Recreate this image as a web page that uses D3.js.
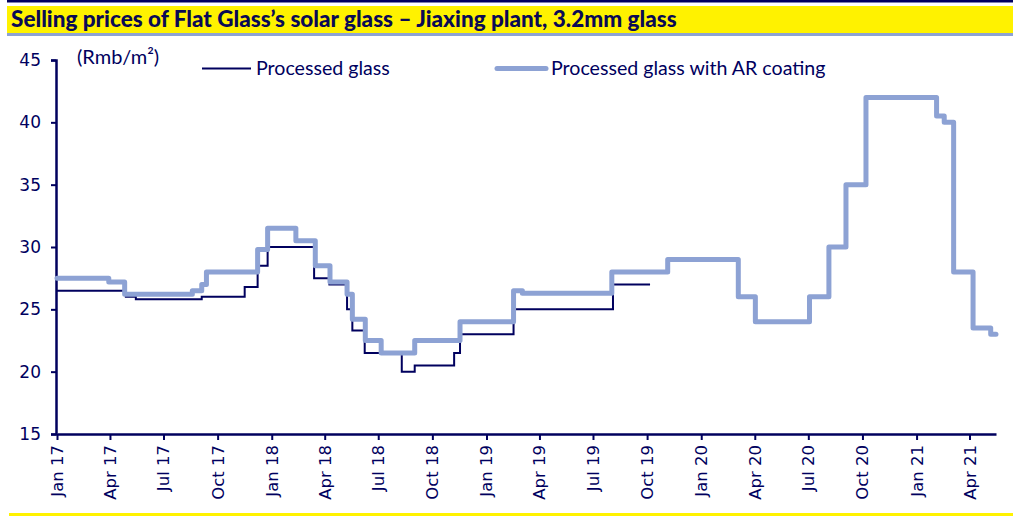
<!DOCTYPE html>
<html>
<head>
<meta charset="utf-8">
<script src="https://cdn.jsdelivr.net/npm/d3@7"></script>
<style>
  body { margin: 0; background: #fff; }
  svg { display: block; }
</style>
</head>
<body>
<div id="chart"></div>
<script>
// step changes: [date, Rmb/m2]
const processedGlass = [
  ["2017-01-01", 26.5], ["2017-04-28", 26.0], ["2017-05-15", 25.8],
  ["2017-09-04", 26.0], ["2017-11-16", 26.8], ["2017-12-08", 28.5],
  ["2017-12-25", 30.0], ["2018-03-14", 27.5], ["2018-04-09", 27.0],
  ["2018-05-09", 25.0], ["2018-05-18", 23.3], ["2018-06-08", 21.5],
  ["2018-08-10", 20.0], ["2018-09-01", 20.5], ["2018-11-07", 21.5],
  ["2018-11-17", 23.0], ["2019-02-16", 25.0], ["2019-08-04", 27.0],
  ["2019-10-06", 27.0]
];

const arCoatedGlass = [
  ["2017-01-01", 27.5], ["2017-03-30", 27.2], ["2017-04-26", 26.2],
  ["2017-08-19", 26.5], ["2017-09-04", 27.0], ["2017-09-12", 28.0],
  ["2017-12-08", 29.8], ["2017-12-25", 31.5], ["2018-02-11", 30.5],
  ["2018-03-16", 28.5], ["2018-04-10", 27.2], ["2018-05-09", 26.2],
  ["2018-05-18", 24.2], ["2018-06-09", 22.5], ["2018-07-06", 21.5],
  ["2018-09-01", 22.5], ["2018-11-17", 24.0], ["2019-02-16", 26.5],
  ["2019-03-03", 26.3], ["2019-08-02", 28.0], ["2019-11-05", 29.0],
  ["2020-03-04", 26.0], ["2020-04-02", 24.0], ["2020-07-03", 26.0],
  ["2020-08-05", 30.0], ["2020-09-03", 35.0], ["2020-10-07", 42.0],
  ["2021-02-04", 40.5], ["2021-02-17", 40.0], ["2021-03-05", 28.0],
  ["2021-04-07", 23.5], ["2021-05-07", 23.0], ["2021-05-16", 23.0]
];

const yTicks = [15, 20, 25, 30, 35, 40, 45];
const seriesNames = ["Processed glass", "Processed glass with AR coating"];
const title = "Selling prices of Flat Glass\u2019s solar glass \u2013 Jiaxing plant, 3.2mm glass";

const WIDTH = 1013, HEIGHT = 516;
const NAVY = "#00005e", LIGHT = "#8da2d4", YELLOW = "#fff200";

const parse = d3.timeParse("%Y-%m-%d");

let svg = d3.select("#chart").append("svg")
  .attr("width", WIDTH)
  .attr("height", HEIGHT);

// header band
svg.append("rect").attr("x", 7).attr("y", 0).attr("width", WIDTH - 7).attr("height", 2.5).attr("fill", NAVY);
svg.append("rect").attr("x", 7).attr("y", 6).attr("width", WIDTH - 7).attr("height", 27).attr("fill", YELLOW);
svg.append("rect").attr("x", 7).attr("y", 33).attr("width", WIDTH - 7).attr("height", 3).attr("fill", LIGHT);
svg.append("text")
  .attr("x", 11).attr("y", 27)
  .attr("font-family", "Lato, sans-serif")
  .attr("font-weight", "900")
  .attr("font-size", 22.5)
  .attr("fill", "#0a0a55")
  .text(title);

// bottom rule
svg.append("rect").attr("x", 9).attr("y", 513).attr("width", WIDTH - 9).attr("height", 3).attr("fill", YELLOW);

let x = d3.scaleTime()
  .domain([parse("2017-01-01"), parse("2021-05-16")])
  .range([57, 996]);

let y = d3.scaleLinear()
  .domain([15, 45])
  .range([434, 60]);

// y axis
let yAxis = svg.append("g")
  .attr("transform", "translate(56,0)")
  .call(d3.axisLeft(y).tickValues(yTicks).tickSize(5).tickPadding(10));
yAxis.select(".domain").attr("stroke", NAVY).attr("stroke-width", 2.5);
yAxis.selectAll(".tick line").attr("stroke", NAVY).attr("stroke-width", 2);
yAxis.selectAll("text")
  .attr("font-family", "'DejaVu Sans', sans-serif")
  .attr("font-size", 17)
  .attr("fill", NAVY);

// x axis
let xAxis = svg.append("g")
  .attr("transform", "translate(0,434)")
  .call(d3.axisBottom(x)
    .ticks(d3.timeMonth.every(3))
    .tickFormat(d3.timeFormat("%b %y"))
    .tickSize(6)
    .tickSizeOuter(0));
xAxis.select(".domain").attr("stroke", NAVY).attr("stroke-width", 2.5);
xAxis.selectAll(".tick line").attr("stroke", NAVY).attr("stroke-width", 2);
xAxis.selectAll("text")
  .attr("font-family", "'DejaVu Sans', sans-serif")
  .attr("font-size", 16.5)
  .attr("fill", NAVY)
  .attr("text-anchor", "end")
  .attr("dy", null)
  .attr("transform", "rotate(-90)")
  .attr("x", -11)
  .attr("y", 0)
  .attr("dominant-baseline", "central");

// unit label
svg.append("text")
  .attr("x", 77).attr("y", 64)
  .attr("font-family", "Lato, sans-serif")
  .attr("font-size", 20)
  .attr("fill", NAVY)
  .text("(Rmb/m\u00b2)");

let line = d3.line()
  .x(d => x(parse(d[0])))
  .y(d => y(d[1]))
  .curve(d3.curveStepAfter);

svg.append("path")
  .datum(processedGlass)
  .attr("d", line)
  .attr("fill", "none")
  .attr("stroke", NAVY)
  .attr("stroke-width", 2);

svg.append("path")
  .datum(arCoatedGlass)
  .attr("d", line)
  .attr("fill", "none")
  .attr("stroke", LIGHT)
  .attr("stroke-width", 5)
  .attr("stroke-linejoin", "round")
  .attr("stroke-linecap", "round");

// legend
let legend = [
  { name: seriesNames[0], color: NAVY, w: 2, x: 202 },
  { name: seriesNames[1], color: LIGHT, w: 5, x: 497 }
];
legend.forEach(l => {
  svg.append("line")
    .attr("x1", l.x).attr("x2", l.x + 49)
    .attr("y1", 68.5).attr("y2", 68.5)
    .attr("stroke", l.color)
    .attr("stroke-width", l.w)
    .attr("stroke-linecap", l.w > 2 ? "round" : "butt");
  svg.append("text")
    .attr("x", l.x + 54).attr("y", 75)
    .attr("font-family", "Lato, sans-serif")
    .attr("font-size", 19.6)
    .attr("fill", NAVY)
    .text(l.name);
});
</script>
</body>
</html>
